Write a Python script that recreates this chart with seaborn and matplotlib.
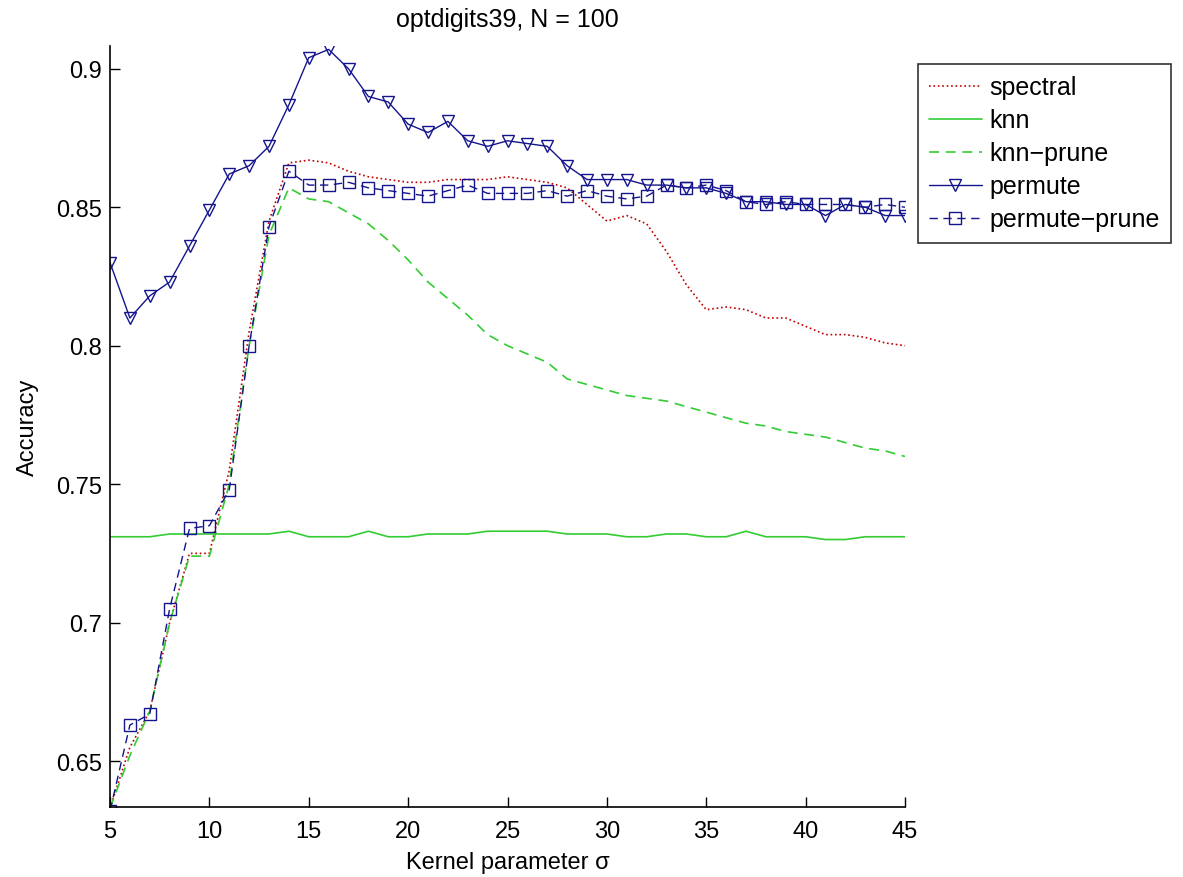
import numpy as np
import pandas as pd
import matplotlib
matplotlib.use("Agg")
import matplotlib.pyplot as plt
import seaborn as sns

sigma = list(range(5, 46))

spectral = [0.633, 0.655, 0.668, 0.700, 0.725, 0.725, 0.755, 0.805, 0.845, 0.866,
            0.867, 0.866, 0.863, 0.861, 0.860, 0.859, 0.859, 0.860, 0.860, 0.860,
            0.861, 0.860, 0.859, 0.857, 0.851, 0.845, 0.847, 0.844, 0.834, 0.822,
            0.813, 0.814, 0.813, 0.810, 0.810, 0.807, 0.804, 0.804, 0.803, 0.801,
            0.800]
knn = [0.731, 0.731, 0.731, 0.732, 0.732, 0.732, 0.732, 0.732, 0.732, 0.733,
       0.731, 0.731, 0.731, 0.733, 0.731, 0.731, 0.732, 0.732, 0.732, 0.733,
       0.733, 0.733, 0.733, 0.732, 0.732, 0.732, 0.731, 0.731, 0.732, 0.732,
       0.731, 0.731, 0.733, 0.731, 0.731, 0.731, 0.730, 0.730, 0.731, 0.731,
       0.731]
knn_prune = [0.633, 0.652, 0.668, 0.700, 0.724, 0.724, 0.750, 0.800, 0.840, 0.857,
             0.853, 0.852, 0.848, 0.844, 0.838, 0.831, 0.823, 0.817, 0.811, 0.804,
             0.800, 0.797, 0.794, 0.788, 0.786, 0.784, 0.782, 0.781, 0.780, 0.778,
             0.776, 0.774, 0.772, 0.771, 0.769, 0.768, 0.767, 0.765, 0.763, 0.762,
             0.760]
permute = [0.830, 0.810, 0.818, 0.823, 0.836, 0.849, 0.862, 0.865, 0.872, 0.887,
           0.904, 0.907, 0.900, 0.890, 0.888, 0.880, 0.877, 0.881, 0.874, 0.872,
           0.874, 0.873, 0.872, 0.865, 0.860, 0.860, 0.860, 0.858, 0.858, 0.857,
           0.857, 0.855, 0.852, 0.852, 0.851, 0.851, 0.847, 0.851, 0.850, 0.847,
           0.847]
permute_prune = [0.632, 0.663, 0.667, 0.705, 0.734, 0.735, 0.748, 0.800, 0.843, 0.863,
                 0.858, 0.858, 0.859, 0.857, 0.856, 0.855, 0.854, 0.856, 0.858, 0.855,
                 0.855, 0.855, 0.856, 0.854, 0.856, 0.854, 0.853, 0.854, 0.858, 0.857,
                 0.858, 0.856, 0.852, 0.851, 0.852, 0.851, 0.851, 0.851, 0.850, 0.851,
                 0.850]

labels = ["spectral", "knn", "knn\u2212prune", "permute", "permute\u2212prune"]

sns.set_theme(style="white")
plt.rcParams["font.family"] = ["Liberation Sans", "DejaVu Sans"]
plt.rcParams["text.color"] = "black"
plt.rcParams["axes.labelcolor"] = "black"

fig = plt.figure(figsize=(11.83, 8.78), dpi=100)
ax = fig.add_axes([0.093, 0.0797, 0.672, 0.867])

red = "#c00000"
green = "#33cc33"
blue = "#14148c"

sns.lineplot(x=sigma, y=spectral, ax=ax, color=red, linestyle=":", linewidth=1.2, label=labels[0])
sns.lineplot(x=sigma, y=knn, ax=ax, color=green, linestyle="-", linewidth=1.2, label=labels[1])
sns.lineplot(x=sigma, y=knn_prune, ax=ax, color=green, linestyle=(0, (6, 4)), linewidth=1.2, label=labels[2])
sns.lineplot(x=sigma, y=permute, ax=ax, color=blue, linestyle="-", linewidth=1.0, marker="v",
             markersize=9, markerfacecolor="none", markeredgecolor=blue, markeredgewidth=1.0,
             label=labels[3])
sns.lineplot(x=sigma, y=permute_prune, ax=ax, color=blue, linestyle=(0, (6, 4)), linewidth=1.0, marker="s",
             markersize=8, markerfacecolor="none", markeredgecolor=blue, markeredgewidth=1.0,
             label=labels[4])

ax.set_xlim(5, 45)
ax.set_ylim(0.6334, 0.9083)
ax.set_xticks([5, 10, 15, 20, 25, 30, 35, 40, 45])
ax.set_yticks([0.65, 0.7, 0.75, 0.8, 0.85, 0.9])
ax.set_yticklabels(["0.65", "0.7", "0.75", "0.8", "0.85", "0.9"])
ax.tick_params(direction="in", length=7, width=1, colors="black", labelsize=17,
               left=True, bottom=True)
ax.tick_params(axis="x", pad=9)
ax.tick_params(axis="y", pad=6)
for s in ["top", "right"]:
    ax.spines[s].set_visible(False)
for s in ["left", "bottom"]:
    ax.spines[s].set_color("black")
    ax.spines[s].set_linewidth(1.2)

ax.set_xlabel("Kernel parameter \u03c3", fontsize=17, labelpad=7)
ax.set_ylabel("Accuracy", fontsize=17, labelpad=12)
ax.set_title("optdigits39, N = 100", fontsize=18, pad=14)

leg = ax.legend(loc="upper left", bbox_to_anchor=(918 / 1183, 1 - 65 / 878),
                bbox_transform=fig.transFigure, frameon=True, fancybox=False,
                edgecolor="black", fontsize=18, handlelength=2.1, handletextpad=0.3,
                borderpad=0.45, labelspacing=0.36, borderaxespad=0)
leg.get_frame().set_linewidth(1.2)

fig.savefig("out.png", dpi=100)
